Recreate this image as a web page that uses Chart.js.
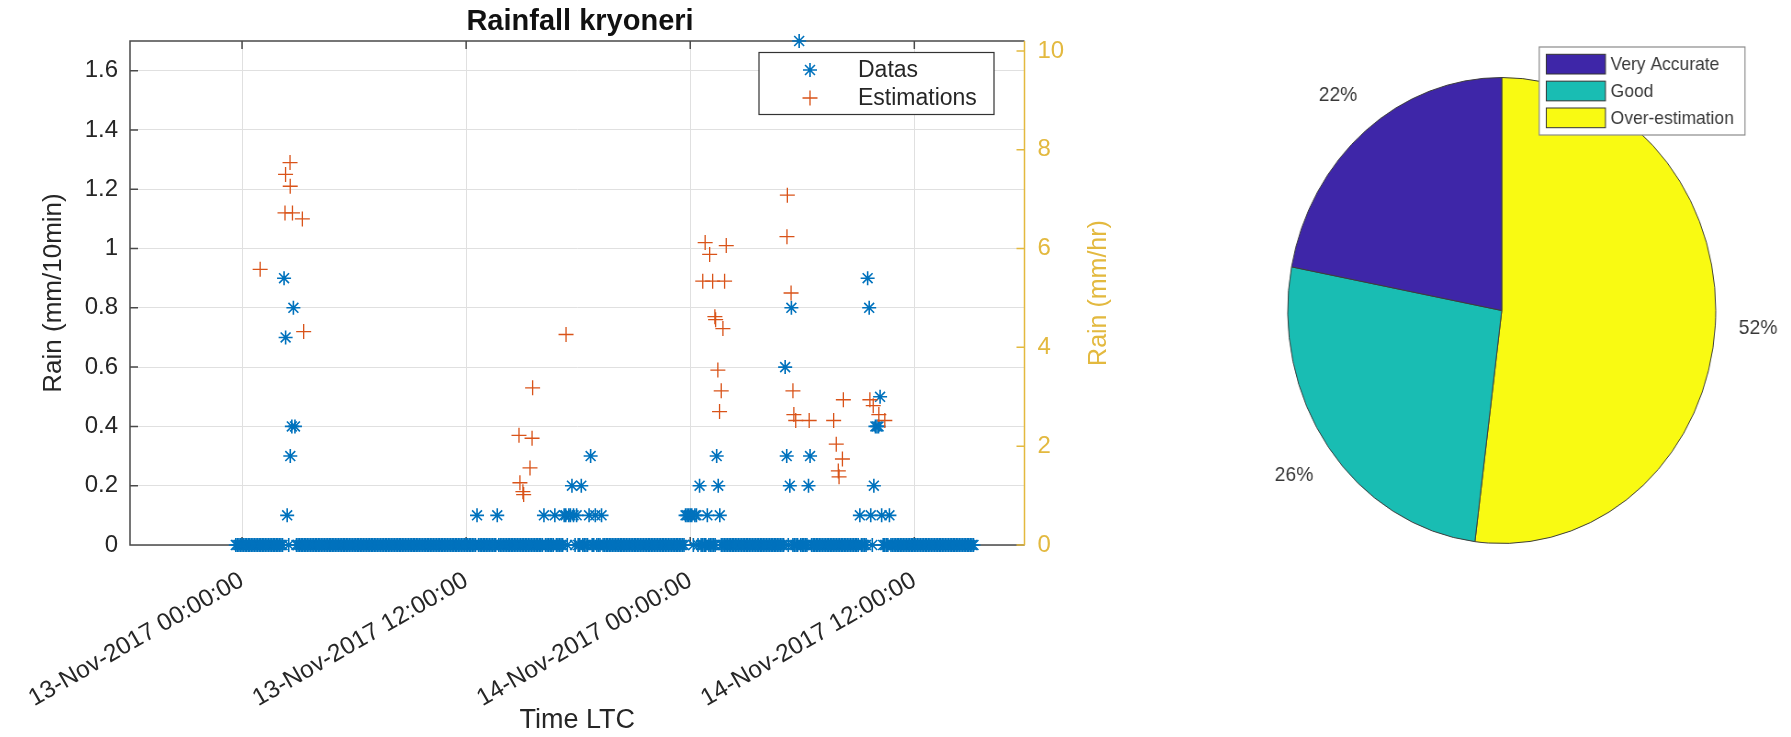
<!DOCTYPE html>
<html>
<head>
<meta charset="utf-8">
<title>Rainfall kryoneri</title>
<script src="https://cdn.jsdelivr.net/npm/chart.js@4.4.1/dist/chart.umd.min.js"></script>
<style>
  html, body { margin: 0; padding: 0; background: #fff; }
  body { width: 1791px; height: 737px; position: relative; overflow: hidden; }
  #rainchart { position: absolute; left: 0; top: 0; }
  /* the pie in the figure is squeezed sideways, so the canvas is too */
  #piechart { position: absolute; left: 1217.3px; top: 0; transform: scaleX(0.9185); transform-origin: 0 0; }
</style>
</head>
<body>
<canvas id="rainchart" width="1160" height="737"></canvas>
<canvas id="piechart" width="620" height="737"></canvas>
<script>
Chart.defaults.font.family = "'Liberation Sans', Arial, sans-serif";
Chart.defaults.color = '#262626';

// x is hours after 13-Nov-2017 00:00
const xTickHours = [0, 12, 24, 36];
const xTickLabels = ['13-Nov-2017 00:00:00', '13-Nov-2017 12:00:00', '14-Nov-2017 00:00:00', '14-Nov-2017 12:00:00'];
const yTicks = [0, 0.2, 0.4, 0.6, 0.8, 1, 1.2, 1.4, 1.6];
const y2Ticks = [0, 2, 4, 6, 8, 10];

// gauge readings (mm/10min), every 5 min starting 12-Nov 23:40, one row per hour
const dataStartHour = -20 / 60;
const dataStepHour = 5 / 60;
const dataRain = [
  0, 0, 0, 0,
  0, 0, 0, 0, 0, 0, 0, 0, 0, 0, 0, 0,          // 13-Nov 00h
  0, 0, 0, 0, 0, 0, 0, 0, 0, 0, 0, 0,
  0, 0, 0, 0.9, 0.7, 0.1, 0, 0.3, 0.4, 0.8, 0.4, 0,
  0, 0, 0, 0, 0, 0, 0, 0, 0, 0, 0, 0,
  0, 0, 0, 0, 0, 0, 0, 0, 0, 0, 0, 0,
  0, 0, 0, 0, 0, 0, 0, 0, 0, 0, 0, 0,          // 05h
  0, 0, 0, 0, 0, 0, 0, 0, 0, 0, 0, 0,
  0, 0, 0, 0, 0, 0, 0, 0, 0, 0, 0, 0,
  0, 0, 0, 0, 0, 0, 0, 0, 0, 0, 0, 0,
  0, 0, 0, 0, 0, 0, 0, 0, 0, 0, 0, 0,
  0, 0, 0, 0, 0, 0, 0, 0, 0, 0, 0, 0,          // 10h
  0, 0, 0, 0, 0, 0, 0, 0, 0, 0, 0, 0,
  0, 0, 0, 0, 0, 0, 0, 0.1, 0, 0, 0, 0,
  0, 0, 0, 0, 0, 0, 0, 0, 0.1, 0, 0, 0,
  0, 0, 0, 0, 0, 0, 0, 0, 0, 0, 0, 0,
  0, 0, 0, 0, 0, 0, 0, 0, 0, 0, 0, 0,          // 15h
  0, 0, 0.1, 0, 0, 0, 0, 0, 0, 0.1, 0, 0,
  0, 0, 0, 0.1, 0.1, 0, 0.1, 0.1, 0.2, 0.1, 0, 0.1,
  0, 0, 0.2, 0, 0, 0, 0, 0.1, 0.3, 0, 0, 0.1,
  0, 0, 0, 0.1, 0, 0, 0, 0, 0, 0, 0, 0,
  0, 0, 0, 0, 0, 0, 0, 0, 0, 0, 0, 0,          // 20h
  0, 0, 0, 0, 0, 0, 0, 0, 0, 0, 0, 0,
  0, 0, 0, 0, 0, 0, 0, 0, 0, 0, 0, 0,
  0, 0, 0, 0, 0, 0, 0, 0, 0, 0.1, 0.1, 0.1,
  0.1, 0.1, 0, 0.1, 0.1, 0, 0.2, 0, 0, 0, 0, 0.1,   // 14-Nov 00h
  0, 0, 0, 0, 0, 0.3, 0.2, 0.1, 0, 0, 0, 0,
  0, 0, 0, 0, 0, 0, 0, 0, 0, 0, 0, 0,
  0, 0, 0, 0, 0, 0, 0, 0, 0, 0, 0, 0,
  0, 0, 0, 0, 0, 0, 0, 0, 0, 0, 0, 0,
  0, 0.6, 0.3, 0, 0.2, 0.8, 0, 0, 0, 0, 1.7, 0,     // 05h
  0, 0, 0, 0, 0.2, 0.3, 0, 0, 0, 0, 0, 0,
  0, 0, 0, 0, 0, 0, 0, 0, 0, 0, 0, 0,
  0, 0, 0, 0, 0, 0, 0, 0, 0, 0, 0, 0,
  0, 0.1, 0, 0, 0, 0, 0.9, 0.8, 0.1, 0, 0.2, 0.4,
  0.4, 0.4, 0.5, 0.1, 0, 0, 0, 0, 0.1, 0, 0, 0,     // 10h
  0, 0, 0, 0, 0, 0, 0, 0, 0, 0, 0, 0,
  0, 0, 0, 0, 0, 0, 0, 0, 0, 0, 0, 0,
  0, 0, 0, 0, 0, 0, 0, 0, 0, 0, 0, 0,
  0, 0, 0, 0, 0, 0, 0, 0, 0, 0, 0, 0,
  0, 0, 0                                            // 15h
];

// model estimations (only the non-zero ones are plotted)
const estHours = [0.97, 2.30, 2.33, 2.57, 2.58, 2.70, 3.23, 3.30,
  14.83, 14.88, 15.04, 15.08, 15.42, 15.53, 15.56, 17.35,
  24.67, 24.80, 25.04, 25.20, 25.32, 25.36, 25.48, 25.57, 25.66, 25.75, 25.84, 25.93,
  29.18, 29.20, 29.40, 29.50, 29.55, 29.65, 30.37, 31.68, 31.82, 31.93, 31.97, 32.15, 32.20,
  33.62, 33.80, 34.10, 34.42];
const estRain = [0.93, 1.12, 1.25, 1.29, 1.21, 1.12, 1.10, 0.72,
  0.37, 0.21, 0.18, 0.17, 0.26, 0.36, 0.53, 0.71,
  0.89, 1.02, 0.98, 0.89, 0.77, 0.76, 0.59, 0.45, 0.52, 0.73, 0.89, 1.01,
  1.04, 1.18, 0.85, 0.52, 0.44, 0.42, 0.42, 0.42, 0.34, 0.25, 0.23, 0.29, 0.49,
  0.49, 0.47, 0.44, 0.42];

// pie of estimation quality
const pieLabels = ['Very Accurate', 'Good', 'Over-estimation'];
const pieValues = [22, 26, 52];
const pieColors = ['#3E26A8', '#19BDB3', '#F9FA12'];

const blue = '#0072BD';
const red = '#D95319';
const yellow = '#E3B93F';
const dark = '#4a4a4a';

const dataPoints = dataRain.map((v, i) => ({x: dataStartHour + i * dataStepHour, y: v}));
const estPoints = estHours.map((h, i) => ({x: h, y: estRain[i]}));

// matlab style box, inward ticks, boxed legend and the right axis label
const matlabAxes = {
  id: 'matlabAxes',
  beforeDatasetsDraw(chart) {
    const {ctx, chartArea: a, scales} = chart;
    const tl = 8;
    ctx.save();
    ctx.lineWidth = 1.5;
    ctx.strokeStyle = dark;
    ctx.beginPath();
    ctx.moveTo(a.right, a.top);
    ctx.lineTo(a.left, a.top);
    ctx.lineTo(a.left, a.bottom);
    ctx.lineTo(a.right, a.bottom);
    scales.x.ticks.forEach(t => {
      const px = scales.x.getPixelForValue(t.value);
      ctx.moveTo(px, a.top); ctx.lineTo(px, a.top + tl);
      ctx.moveTo(px, a.bottom); ctx.lineTo(px, a.bottom - tl);
    });
    scales.y.ticks.forEach(t => {
      const py = scales.y.getPixelForValue(t.value);
      ctx.moveTo(a.left, py); ctx.lineTo(a.left + tl, py);
    });
    ctx.stroke();
    ctx.strokeStyle = yellow;
    ctx.beginPath();
    ctx.moveTo(a.right, a.top);
    ctx.lineTo(a.right, a.bottom);
    scales.y2.ticks.forEach(t => {
      const py = scales.y2.getPixelForValue(t.value);
      ctx.moveTo(a.right, py); ctx.lineTo(a.right - tl, py);
    });
    ctx.stroke();
    ctx.restore();
  },
  afterDraw(chart) {
    const {ctx, chartArea: a} = chart;
    ctx.save();
    // legend
    const bx = 759, by = 52.5, bw = 235, bh = 62;
    ctx.fillStyle = '#fff';
    ctx.fillRect(bx, by, bw, bh);
    ctx.lineWidth = 1.2;
    ctx.strokeStyle = '#333';
    ctx.strokeRect(bx, by, bw, bh);
    ctx.font = "23px 'Liberation Sans', Arial, sans-serif";
    ctx.textBaseline = 'middle';
    chart.data.datasets.forEach((ds, i) => {
      const cy = by + 17.5 + i * 28;
      ctx.strokeStyle = ds.borderColor;
      ctx.lineWidth = ds.pointBorderWidth;
      Chart.helpers.drawPoint(ctx, {pointStyle: ds.pointStyle, radius: ds.pointRadius, borderWidth: ds.pointBorderWidth, rotation: 0}, bx + 51, cy);
      ctx.fillStyle = '#262626';
      ctx.fillText(ds.label, bx + 99, cy + 1);
    });
    // right axis title reads bottom to top like the left one
    ctx.translate(1099, (a.top + a.bottom) / 2);
    ctx.rotate(-Math.PI / 2);
    ctx.textAlign = 'center';
    ctx.fillStyle = yellow;
    ctx.font = "25px 'Liberation Sans', Arial, sans-serif";
    ctx.fillText('Rain (mm/hr)', 0, 0);
    ctx.restore();
  }
};

new Chart(document.getElementById('rainchart'), {
  type: 'scatter',
  data: {
    datasets: [
      {
        label: 'Datas',
        data: dataPoints,
        pointStyle: 'star',
        pointRadius: 7,
        pointHoverRadius: 7,
        pointBorderWidth: 1.6,
        borderColor: blue,
        backgroundColor: blue,
        clip: false,
        yAxisID: 'y',
        order: 2
      },
      {
        label: 'Estimations',
        data: estPoints,
        pointStyle: 'cross',
        pointRadius: 7.5,
        pointHoverRadius: 7.5,
        pointBorderWidth: 1.3,
        borderColor: red,
        backgroundColor: red,
        clip: false,
        yAxisID: 'y',
        order: 1
      }
    ]
  },
  options: {
    responsive: false,
    animation: false,
    events: [],
    layout: {padding: 0},
    plugins: {
      legend: {display: false},
      tooltip: {enabled: false},
      title: {
        display: true,
        text: 'Rainfall kryoneri',
        color: '#111',
        font: {size: 29, weight: 'bold'},
        padding: {top: 5, bottom: 1.2}
      }
    },
    scales: {
      x: {
        type: 'linear',
        min: -6,
        max: 41.9,
        afterBuildTicks: s => { s.ticks = xTickHours.map(v => ({value: v})); },
        afterFit: s => { s.height = 192; s.paddingLeft = 0; s.paddingRight = 0; },
        grid: {color: '#e0e0e0', lineWidth: 1, drawTicks: false},
        border: {display: false},
        ticks: {
          autoSkip: false,
          minRotation: 30,
          maxRotation: 30,
          padding: 21,
          color: '#262626',
          font: {size: 24.5},
          callback: (v, i) => xTickLabels[i]
        },
        title: {display: true, text: 'Time LTC', color: '#262626', font: {size: 27}, padding: {top: 0, bottom: 0}}
      },
      y: {
        position: 'left',
        min: 0,
        max: 1.7,
        afterBuildTicks: s => { s.ticks = yTicks.map(v => ({value: v})); },
        afterFit: s => { s.width = 130; },
        grid: {color: '#e0e0e0', lineWidth: 1, drawTicks: false},
        border: {display: false},
        ticks: {padding: 12, color: '#262626', font: {size: 24}, callback: v => String(v)},
        title: {display: true, text: 'Rain (mm/10min)', color: '#262626', font: {size: 26}, padding: {top: 38, bottom: 0}}
      },
      y2: {
        position: 'right',
        min: 0,
        max: 10.2,
        afterBuildTicks: s => { s.ticks = y2Ticks.map(v => ({value: v})); },
        afterFit: s => { s.width = 135.5; },
        grid: {display: false, drawTicks: false},
        border: {display: false},
        ticks: {padding: 13, color: yellow, font: {size: 24}, callback: v => String(v)}
      }
    }
  },
  plugins: [matlabAxes]
});

// percent labels outside the slices and the boxed legend
const pieExtras = {
  id: 'pieExtras',
  afterDatasetsDraw(chart) {
    const {ctx} = chart;
    const ds = chart.data.datasets[0];
    const arcs = chart.getDatasetMeta(0).data;
    ctx.save();
    ctx.font = "21px 'Liberation Sans', Arial, sans-serif";
    ctx.fillStyle = '#383838';
    ctx.textAlign = 'center';
    ctx.textBaseline = 'middle';
    arcs.forEach((arc, i) => {
      const mid = (arc.startAngle + arc.endAngle) / 2;
      const r = arc.outerRadius * 1.2;
      ctx.fillText(ds.data[i] + '%', arc.x + Math.cos(mid) * r, arc.y + Math.sin(mid) * r);
    });

    const bx = 350.8, by = 47, bw = 224, bh = 88;
    ctx.fillStyle = '#fff';
    ctx.fillRect(bx, by, bw, bh);
    ctx.strokeStyle = '#8a8a8a';
    ctx.lineWidth = 1.2;
    ctx.strokeRect(bx, by, bw, bh);
    ctx.textAlign = 'left';
    ctx.font = "19px 'Liberation Sans', Arial, sans-serif";
    pieLabels.forEach((lab, i) => {
      const sy = by + 7.3 + i * 26.85;
      ctx.fillStyle = pieColors[i];
      ctx.fillRect(bx + 7.7, sy, 64.4, 19.7);
      ctx.strokeStyle = '#333';
      ctx.lineWidth = 1;
      ctx.strokeRect(bx + 7.7, sy, 64.4, 19.7);
      ctx.fillStyle = '#3a3a3a';
      ctx.fillText(lab, bx + 77.8, sy + 10.5);
    });
    ctx.restore();
  }
};

new Chart(document.getElementById('piechart'), {
  type: 'pie',
  data: {
    // matlab goes counter-clockwise from the top, chart.js clockwise
    labels: pieLabels.slice().reverse(),
    datasets: [{
      data: pieValues.slice().reverse(),
      backgroundColor: pieColors.slice().reverse(),
      borderColor: '#3c3c3c',
      borderWidth: 1,
      radius: 233
    }]
  },
  options: {
    responsive: false,
    animation: false,
    events: [],
    layout: {padding: {top: 0, bottom: 116, left: 0, right: 0}},
    plugins: {legend: {display: false}, tooltip: {enabled: false}}
  },
  plugins: [pieExtras]
});
</script>
</body>
</html>
